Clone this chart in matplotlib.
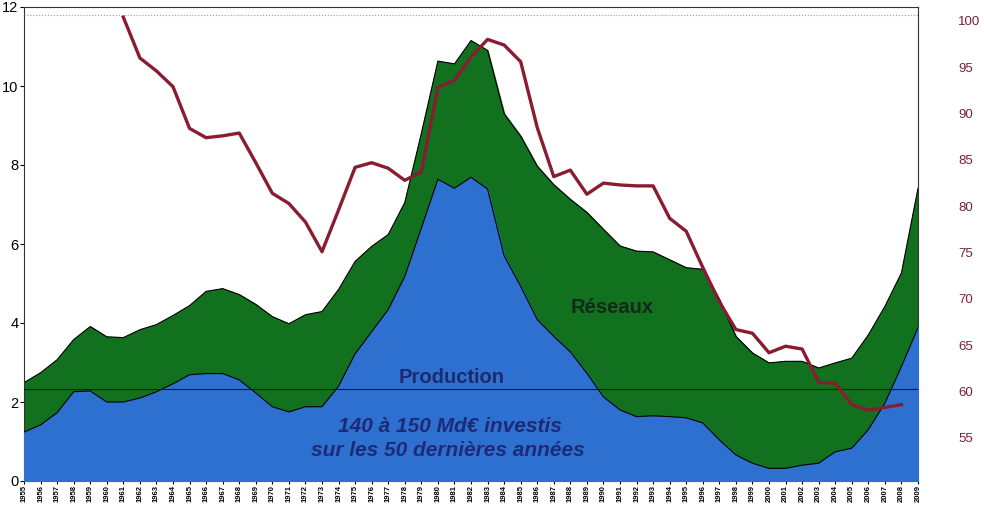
import matplotlib.pyplot as plt
import numpy as np

plt.rcParams['font.family'] = ['Liberation Sans', 'DejaVu Sans']

# Data -----
years = list(range(1955, 2010))
# total investment (production + networks), left axis
total = [2.49, 2.74, 3.07, 3.58, 3.91, 3.65, 3.63, 3.83, 3.96, 4.19,
         4.44, 4.80, 4.87, 4.72, 4.47, 4.16, 3.98, 4.21, 4.29, 4.85,
         5.56, 5.94, 6.24, 7.05, 8.80, 10.63, 10.56, 11.15, 10.90, 9.30,
         8.73, 7.97, 7.50, 7.13, 6.80, 6.37, 5.95, 5.82, 5.80, 5.60,
         5.40, 5.36, 4.60, 3.66, 3.24, 2.99, 3.03, 3.03, 2.86, 2.99,
         3.11, 3.70, 4.42, 5.27, 7.41]
production = [1.24, 1.42, 1.73, 2.26, 2.28, 2.00, 2.00, 2.10, 2.26, 2.46,
              2.69, 2.72, 2.72, 2.56, 2.23, 1.88, 1.75, 1.88, 1.88, 2.40,
              3.22, 3.78, 4.34, 5.18, 6.40, 7.64, 7.41, 7.69, 7.39, 5.70,
              4.93, 4.09, 3.66, 3.27, 2.73, 2.13, 1.80, 1.63, 1.65, 1.63,
              1.60, 1.47, 1.04, 0.66, 0.45, 0.32, 0.32, 0.40, 0.45, 0.74,
              0.83, 1.30, 1.97, 2.90, 3.88]
# red index line, right axis
line_years = list(range(1961, 2009))
line_vals = [100.4, 96.0, 94.6, 92.9, 88.4, 87.4, 87.6, 87.9, 84.7, 81.4,
             80.3, 78.3, 75.1, 79.6, 84.2, 84.7, 84.1, 82.8, 83.7, 92.8,
             93.6, 96.1, 98.0, 97.4, 95.6, 88.5, 83.2, 83.9, 81.3, 82.5,
             82.3, 82.2, 82.2, 78.7, 77.3, 73.4, 69.7, 66.7, 66.3, 64.2,
             64.9, 64.6, 61.0, 60.9, 58.6, 58.0, 58.3, 58.6]
right_ticks = [55, 60, 65, 70, 75, 80, 85, 90, 95, 100]

green = '#12711f'
blue = '#2d70cf'
red = '#8a1c32'

fig = plt.figure(figsize=(9.84, 5.08), dpi=100)
ax = fig.add_axes([24/984, 27/508, 894/984, 474/508])

ax.fill_between(years, 0, total, color=green, zorder=1)
ax.plot(years, total, color='black', lw=0.8, zorder=2)
ax.fill_between(years, 0, production, color=blue, zorder=3)
ax.plot(years, production, color='black', lw=0.8, zorder=4)

ax.axhline(2.33, color='#1a1a1a', lw=0.8, zorder=5)
ax.axhline(11.8, color='#999999', lw=0.8, ls=':', zorder=5)

ax.set_xlim(1955, 2009)
ax.set_ylim(0, 12)
ax.set_yticks(range(0, 13, 2))
ax.tick_params(axis='y', labelsize=10.5, length=3, pad=1)
ax.set_xticks(years)
ax.set_xticklabels([str(y) for y in years], rotation=90, fontsize=5.5, fontweight='bold')
ax.tick_params(axis='x', length=2, pad=1)
for s in ax.spines.values():
    s.set_linewidth(0.8)
    s.set_color('#333333')

# text labels
ax.text(1990.5, 4.4, 'Réseaux', fontsize=14.5, fontweight='bold',
        color='#15281a', ha='center', va='center', zorder=6)
ax.text(1980.85, 2.63, 'Production', fontsize=14.5, fontweight='bold',
        color='#1c2a6e', ha='center', va='center', zorder=6)
ax.text(1980.7, 1.37, '140 à 150 Md€ investis', fontsize=15, fontweight='bold',
        fontstyle='italic', color='#1e2a78', ha='center', va='center', zorder=6)
ax.text(1980.6, 0.78, 'sur les 50 dernières années', fontsize=15, fontweight='bold',
        fontstyle='italic', color='#1e2a78', ha='center', va='center', zorder=6)

ax2 = ax.twinx()
ax2.plot(line_years, line_vals, color=red, lw=2.4, zorder=7)
ax2.set_ylim(50.36, 101.5)
ax2.set_yticks(right_ticks)
ax2.tick_params(axis='y', length=0, pad=29, labelsize=9.5, labelcolor='#7a1f3a')
for s in ax2.spines.values():
    s.set_visible(False)

fig.savefig('out.png', dpi=100)
